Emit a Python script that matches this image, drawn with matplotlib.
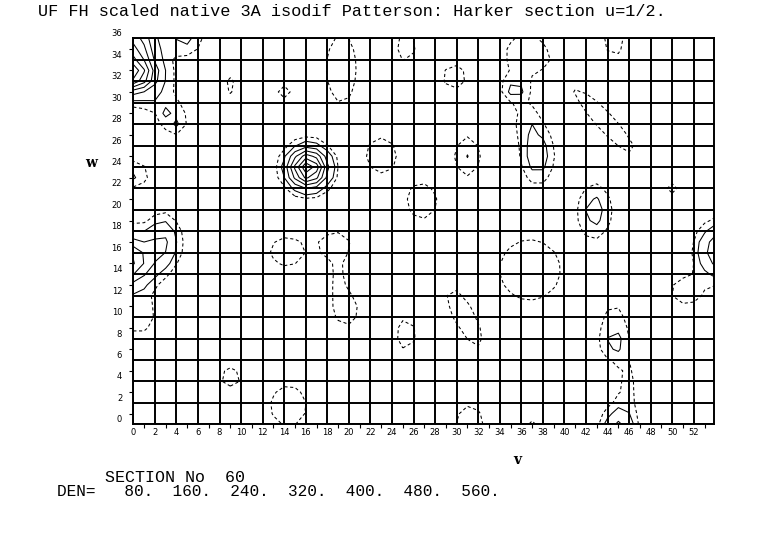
import numpy as np
import matplotlib
matplotlib.use("Agg")
import matplotlib.pyplot as plt

# contour levels printed under the map (solid) and the low dashed level
den_levels = [80, 160, 240, 320, 400, 480, 560]
dash_level = [40]
section_no = 60
title = "UF FH scaled native 3A isodif Patterson: Harker section u=1/2."

# peaks: centre (v, w), height, widths along/across, tilt in degrees
peak_v = [-0.4, 0.0, 0.5, 3.7, 4.0, 3.0, 2.2, 4.8, 9.0, 14.0, 19.3, 25.3,
          16.2, 23.0, 26.8, 0.2, -0.5, 2.8, 0.5, 54.6, 51.3, 54.8,
          14.2, 18.8, 19.0, 19.8, 25.3, 9.0, 14.4, 36.8, 30.7, 31.2, 37.0,
          44.6, 45.9, 44.6, 45.0, 29.8, 31.0, 36.4, 35.4, 36.5, 37.5,
          43.8, 44.6, 42.8, 50.0]
peak_w = [32.5, 35.0, 33.0, 28.6, 28.0, 29.0, 30.3, 35.9, 31.6, 31.0, 33.2, 35.2,
          23.9, 25.1, 20.8, 23.3, 15.3, 17.0, 10.2, 16.2, 12.4, 9.9,
          16.1, 16.8, 13.5, 10.6, 8.4, 4.4, 1.7, 14.4, 10.0, 0.0, 0.0,
          9.0, 3.5, 7.5, -0.8, 32.4, 25.0, 34.5, 31.2, 28.3, 25.1,
          28.2, 36.0, 19.9, 22.0]
peak_h = [370, 300, 50, 55, 40, 38, 35, 95, 60, 76, 70, 60,
          560, 60, 60, 95, 350, 160, 70, 260, 65, 60,
          62, 60, 50, 62, 60, 50, 62, 75, 70, 58, 55,
          55, 50, 60, 200, 55, 82, 60, 95, 60, 120,
          70, 58, 105, 62]
peak_sa = [1.7, 1.2, 2.2, 1.3, 0.45, 0.35, 0.9, 1.15, 0.5, 0.5, 1.3, 0.9,
           1.2, 1.5, 1.5, 0.8, 1.6, 1.0, 1.3, 1.4, 1.4, 0.7,
           1.6, 1.4, 0.7, 1.1, 0.95, 1.4, 1.75, 2.5, 2.9, 1.45, 0.5,
           1.3, 0.8, 0.7, 1.0, 1.3, 0.95, 2.0, 0.8, 0.9, 1.05,
           4.0, 1.0, 1.1, 0.3]
peak_sb = [1.0, 2.0, 2.5, 1.5, 0.55, 0.35, 0.6, 1.0, 0.8, 0.5, 3.0, 1.5,
           1.2, 1.8, 1.8, 0.9, 1.6, 1.6, 1.5, 1.6, 1.2, 0.7,
           1.4, 1.2, 1.5, 1.4, 1.55, 1.35, 2.0, 2.5, 0.85, 2.0, 0.5,
           2.5, 2.0, 0.9, 1.5, 1.4, 1.5, 2.0, 0.8, 1.3, 1.8,
           0.75, 1.9, 1.8, 0.3]
peak_ang = [0] * 30 + [-62] + [0] * 12 + [-47, 0, 0, 0]

# map sampled on the whole-number grid, as the original program did
v = np.arange(0, 55)
w = np.arange(0, 37)
V, W = np.meshgrid(v, w)
den = np.zeros_like(V, dtype=float)
for pv, pw, h, sa, sb, ang in zip(peak_v, peak_w, peak_h, peak_sa, peak_sb, peak_ang):
    a = np.deg2rad(ang)
    dx, dy = V - pv, W - pw
    u = dx * np.cos(a) + dy * np.sin(a)
    t = -dx * np.sin(a) + dy * np.cos(a)
    den += h * np.exp(-0.5 * (u / sa) ** 2 - 0.5 * (t / sb) ** 2)

fig = plt.figure(figsize=(7.68, 5.42), dpi=100)
ax = fig.add_axes([133.3 / 768, 1 - 424.3 / 542, 581 / 768, 386 / 542])

ax.contour(V, W, den, levels=dash_level, colors="k", linewidths=0.75,
           linestyles=[(0, (3, 2.5))])
ax.contour(V, W, den, levels=den_levels, colors="k", linewidths=0.75,
           linestyles="solid")

ax.set_xlim(0, 53.9)
ax.set_ylim(0, 36)
ax.set_xticks(np.arange(0, 54, 2))
ax.set_yticks(np.arange(0, 37, 2))
ax.set_xticks(np.arange(1, 54, 2), minor=True)
ax.set_yticks(np.arange(1, 36, 2), minor=True)
ax.grid(True, which="major", color="k", linewidth=1.4)
ax.tick_params(which="major", length=0, labelsize=6)
ax.tick_params(axis="x", which="major", pad=3)
ax.tick_params(axis="y", which="major", pad=8)
ax.tick_params(which="minor", length=3, width=0.8, direction="out")
for lab in ax.get_yticklabels():
    lab.set_va("bottom")
for s in ax.spines.values():
    s.set_linewidth(1.4)

mono = "Liberation Mono"
fig.text(38 / 768, 1 - 12 / 542, title, family=mono, fontsize=12.2,
         va="center", ha="left")
fig.text(91 / 768, 1 - 163 / 542, "w", family="DejaVu Serif", fontweight="bold",
         fontsize=10, va="center", ha="center")
fig.text(517 / 768, 1 - 460 / 542, "v", family="DejaVu Serif", fontweight="bold",
         fontsize=10, va="center", ha="center")
fig.text(105 / 768, 1 - 477 / 542, f"SECTION No  {section_no}",
         family=mono, fontsize=12, va="center", ha="left")
den_text = "DEN=" + "".join(f"{d:5d}." for d in den_levels)
fig.text(57 / 768, 1 - 492 / 542, den_text, family=mono,
         fontsize=11.6, va="center", ha="left")

fig.savefig("out.png", dpi=100)
